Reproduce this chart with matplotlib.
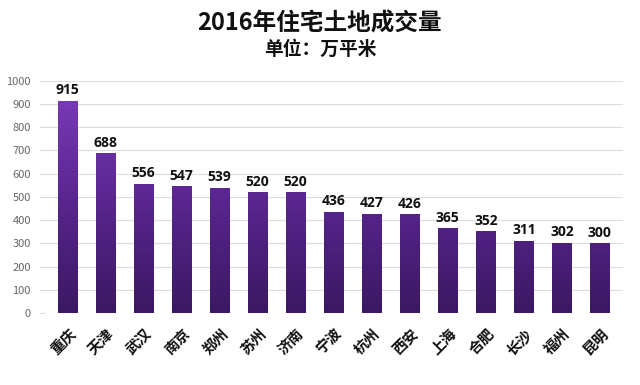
import matplotlib
matplotlib.use("Agg")
import matplotlib.pyplot as plt
import numpy as np
from matplotlib.colors import LinearSegmentedColormap

plt.rcParams['font.family'] = ['Noto Sans CJK SC', 'DejaVu Sans']

cities = ["重庆", "天津", "武汉", "南京", "郑州", "苏州", "济南", "宁波",
          "杭州", "西安", "上海", "合肥", "长沙", "福州", "昆明"]
values = [915, 688, 556, 547, 539, 520, 520, 436, 427, 426, 365, 352, 311, 302, 300]
yticks = [0, 100, 200, 300, 400, 500, 600, 700, 800, 900, 1000]

fig = plt.figure(figsize=(6.4, 3.85), dpi=100)
ax = fig.add_axes([0.07, 0.187, 0.903, 0.603])

x = np.arange(len(cities))
bars = ax.bar(x, values, width=0.52, color='none', edgecolor='none', zorder=3)

cmap = LinearSegmentedColormap.from_list("pg", ["#3a1862", "#5a2690", "#7e3dbd"])
grad = np.linspace(0, 1, 256).reshape(-1, 1)
for b in bars:
    x0, w = b.get_x(), b.get_width()
    im = ax.imshow(grad, cmap=cmap, origin='lower', aspect='auto',
                   extent=[x0, x0 + w, 0, 1000], zorder=3)
    im.set_clip_path(b)

for xi, v in zip(x, values):
    ax.text(xi, v + 15, str(v), ha='center', va='bottom', fontsize=10,
            fontweight='bold', color='#111111', family=['Open Sans', 'DejaVu Sans'],
            clip_on=False)

ax.set_xlim(-0.6, len(cities) - 0.4)
ax.set_ylim(0, 1000)
ax.set_yticks(yticks)
ax.set_yticklabels([str(t) for t in yticks], fontsize=8, color='#666666')
ax.yaxis.grid(True, color='#dddddd', linewidth=0.8, zorder=0)
ax.set_axisbelow(True)
ax.tick_params(axis='y', length=4, color='#dddddd', pad=6)
ax.tick_params(axis='x', length=0, pad=9)
ax.set_xticks(x)
ax.set_xticklabels(cities, rotation=45, ha='right', rotation_mode='anchor',
                   fontsize=10.5, fontweight='bold', color='#111111')
for s in ax.spines.values():
    s.set_visible(False)

fig.text(0.5, 0.94, "2016年住宅土地成交量", ha='center', va='center',
         fontsize=17, fontweight='bold', color='#111111')
fig.text(0.5, 0.873, "单位：万平米", ha='center', va='center',
         fontsize=13.5, fontweight='bold', color='#111111')

fig.savefig("out.png", dpi=100)
